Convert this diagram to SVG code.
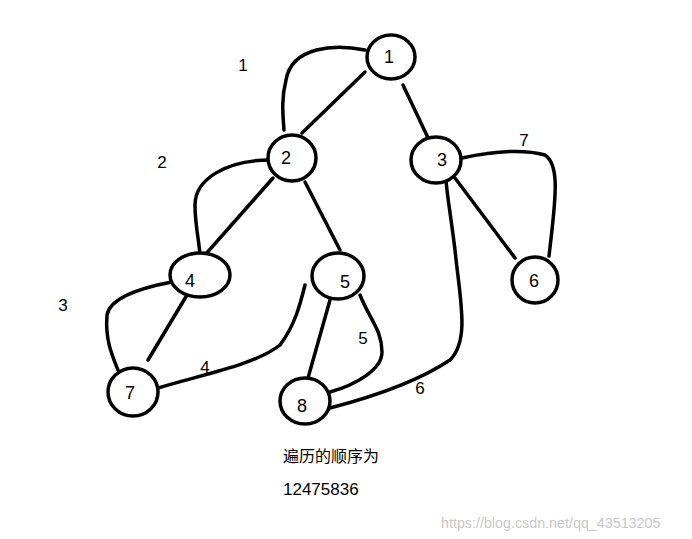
<svg xmlns="http://www.w3.org/2000/svg" width="692" height="539" viewBox="0 0 692 539">
<style>
.n{fill:#fff;stroke:#000;stroke-width:3.5}
.e{fill:none;stroke:#000;stroke-width:3.5;stroke-linecap:round}
.t{font-family:"Liberation Sans",sans-serif;font-size:18px;text-anchor:middle}
.l{font-family:"Liberation Sans",sans-serif;font-size:17px;text-anchor:middle}
</style>
<rect width="692" height="539" fill="#fff"/>
<g id="connectors">
<path class="e" d="M365,72 L302,133"/>
<path class="e" d="M403,85 L430,142"/>
<path class="e" d="M273,178 L205,255"/>
<path class="e" d="M305,182 L340,250"/>
<path class="e" d="M190,290 L148,360"/>
<path class="e" d="M330,300 L308,378"/>
<path class="e" d="M455,178 L515,258"/>
<path class="e" d="M365,50 C335,44 292,46 286,80 C281,100 283,115 284,130"/>
<path class="e" d="M270,160 C225,160 195,180 195,205 C195,225 199,240 200,255"/>
<path class="e" d="M172,282 C140,288 110,298 107,315 C105,340 112,355 118,370"/>
<path class="e" d="M158,388 C200,375 255,365 280,345 C295,325 300,305 305,285"/>
<path class="e" d="M360,295 C370,320 382,330 382,352 C382,370 355,385 330,392"/>
<path class="e" d="M330,408 C380,395 420,380 450,360 C470,340 460,300 455,250 C450,210 447,195 446,180"/>
<path class="e" d="M462,158 C490,152 520,148 545,155 C560,165 555,200 552,230 L549,256"/>
</g>
<g id="node1"><ellipse class="n" cx="391" cy="57" rx="24" ry="22"/><text class="t" x="389" y="63">1</text></g>
<g id="node2"><ellipse class="n" cx="292" cy="158" rx="24" ry="23"/><text class="t" x="286" y="164">2</text></g>
<g id="node3"><ellipse class="n" cx="436" cy="160" rx="25" ry="23"/><text class="t" x="442" y="166">3</text></g>
<g id="node4"><ellipse class="n" cx="200" cy="275" rx="30" ry="22"/><text class="t" x="190" y="287">4</text></g>
<g id="node5"><ellipse class="n" cx="338" cy="276" rx="26" ry="23"/><text class="t" x="345" y="288">5</text></g>
<g id="node6"><ellipse class="n" cx="535" cy="280" rx="23" ry="23"/><text class="t" x="534" y="287">6</text></g>
<g id="node7"><ellipse class="n" cx="133" cy="392" rx="25" ry="24"/><text class="t" x="130" y="399">7</text></g>
<g id="node8"><ellipse class="n" cx="305" cy="401" rx="25" ry="23"/><text class="t" x="302" y="412">8</text></g>
<g id="labels">
<text class="l" x="243" y="71">1</text>
<text class="l" x="162" y="168">2</text>
<text class="l" x="63" y="311">3</text>
<text class="l" x="205" y="373">4</text>
<text class="l" x="363" y="344">5</text>
<text class="l" x="420" y="394">6</text>
<text class="l" x="524" y="146">7</text>
<text x="283" y="462" style="font-family:'Liberation Sans','Noto Sans CJK SC',sans-serif;font-size:16px">遍历的顺序为</text>
<text x="283" y="495" style="font-family:'Liberation Sans',sans-serif;font-size:17px">12475836</text>
<text x="441" y="528" style="font-family:'Liberation Sans',sans-serif;font-size:14.3px;fill:#c8c8c8">https://blog.csdn.net/qq_43513205</text>
</g>
</svg>
